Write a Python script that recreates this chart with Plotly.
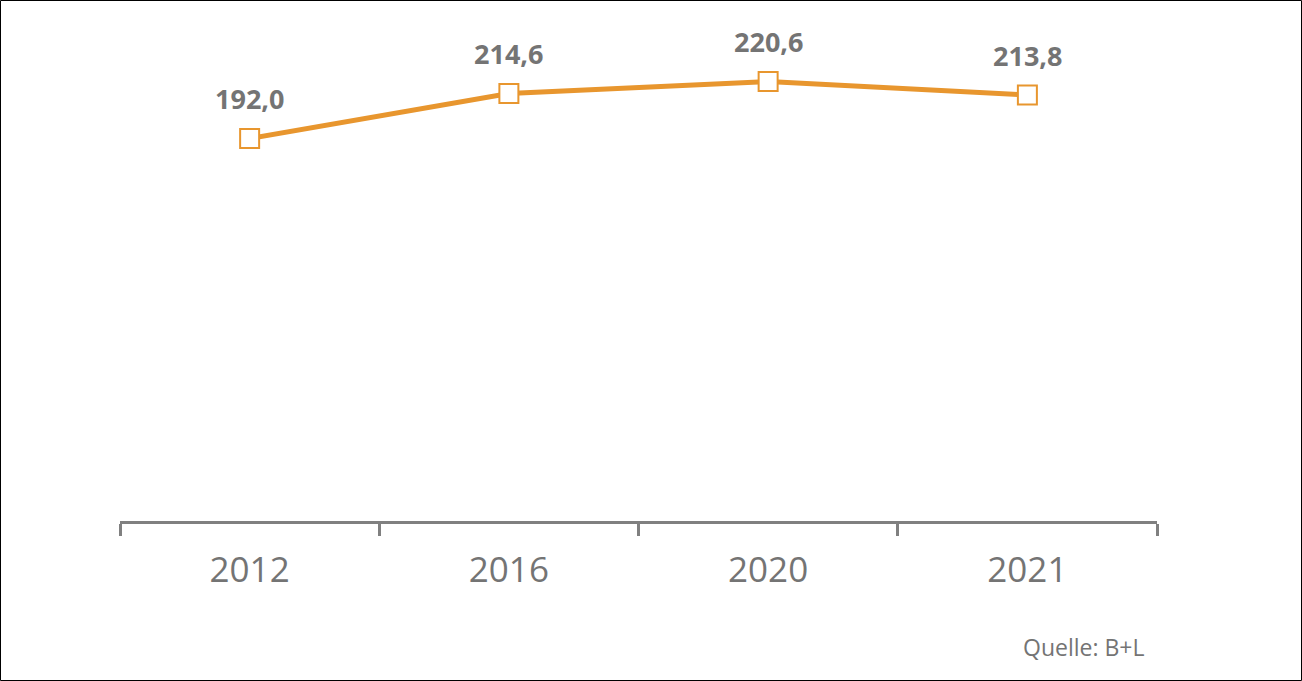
import plotly.graph_objects as go

years = ["2012", "2016", "2020", "2021"]
values = [192.0, 214.6, 220.6, 213.8]
labels = ["192,0", "214,6", "220,6", "213,8"]

ORANGE = "#E8962E"
GRAY = "#747474"
AXIS = "#808080"

L, R, T, B = 120, 145, 23, 160
W, H = 1302, 681
pw, ph = W - L - R, H - T - B

fig = go.Figure()
fig.add_trace(go.Scatter(
    x=years, y=values, mode="lines+markers",
    line=dict(color=ORANGE, width=5),
    marker=dict(symbol="square", size=19, color="white",
                line=dict(color=ORANGE, width=2)),
    hoverinfo="skip", showlegend=False,
))
for i, (v, lab) in enumerate(zip(values, labels)):
    fig.add_annotation(x=i, y=v, xref="x", yref="y", text=f"<b>{lab}</b>", showarrow=False,
                       yshift=40, font=dict(family="Open Sans", size=27, color=GRAY))

fig.add_annotation(xref="paper", yref="paper",
                   x=(1146 - L) / pw, y=(H - B - 647) / ph,
                   xanchor="right", yanchor="middle", showarrow=False,
                   text="Quelle: B+L", font=dict(family="Open Sans", size=23, color=GRAY))

fig.add_shape(type="rect", xref="paper", yref="paper",
              x0=(0.5 - L) / pw, x1=(W - 0.5 - L) / pw,
              y0=(H - B - (H - 0.5)) / ph, y1=(H - B - 0.5) / ph,
              line=dict(color="black", width=1), fillcolor="rgba(0,0,0,0)", layer="above")

fig.update_layout(
    width=W, height=H, margin=dict(l=L, r=R, t=T, b=B),
    paper_bgcolor="white", plot_bgcolor="white",
    xaxis=dict(type="category", range=[-0.5, 3.5], showline=True, linecolor=AXIS,
               linewidth=3, ticks="outside", tickson="boundaries", ticklen=12,
               tickwidth=3, tickcolor=AXIS, showgrid=False, zeroline=False,
               tickfont=dict(family="Open Sans", size=35, color=GRAY),
               ticklabelstandoff=16),
    yaxis=dict(range=[0, 250], showticklabels=False, ticks="", showline=False,
               showgrid=False, zeroline=False),
)
fig.write_html("out.html", config={"displayModeBar": False},
               post_script="document.body.style.margin='0';document.body.style.overflow='hidden';")
